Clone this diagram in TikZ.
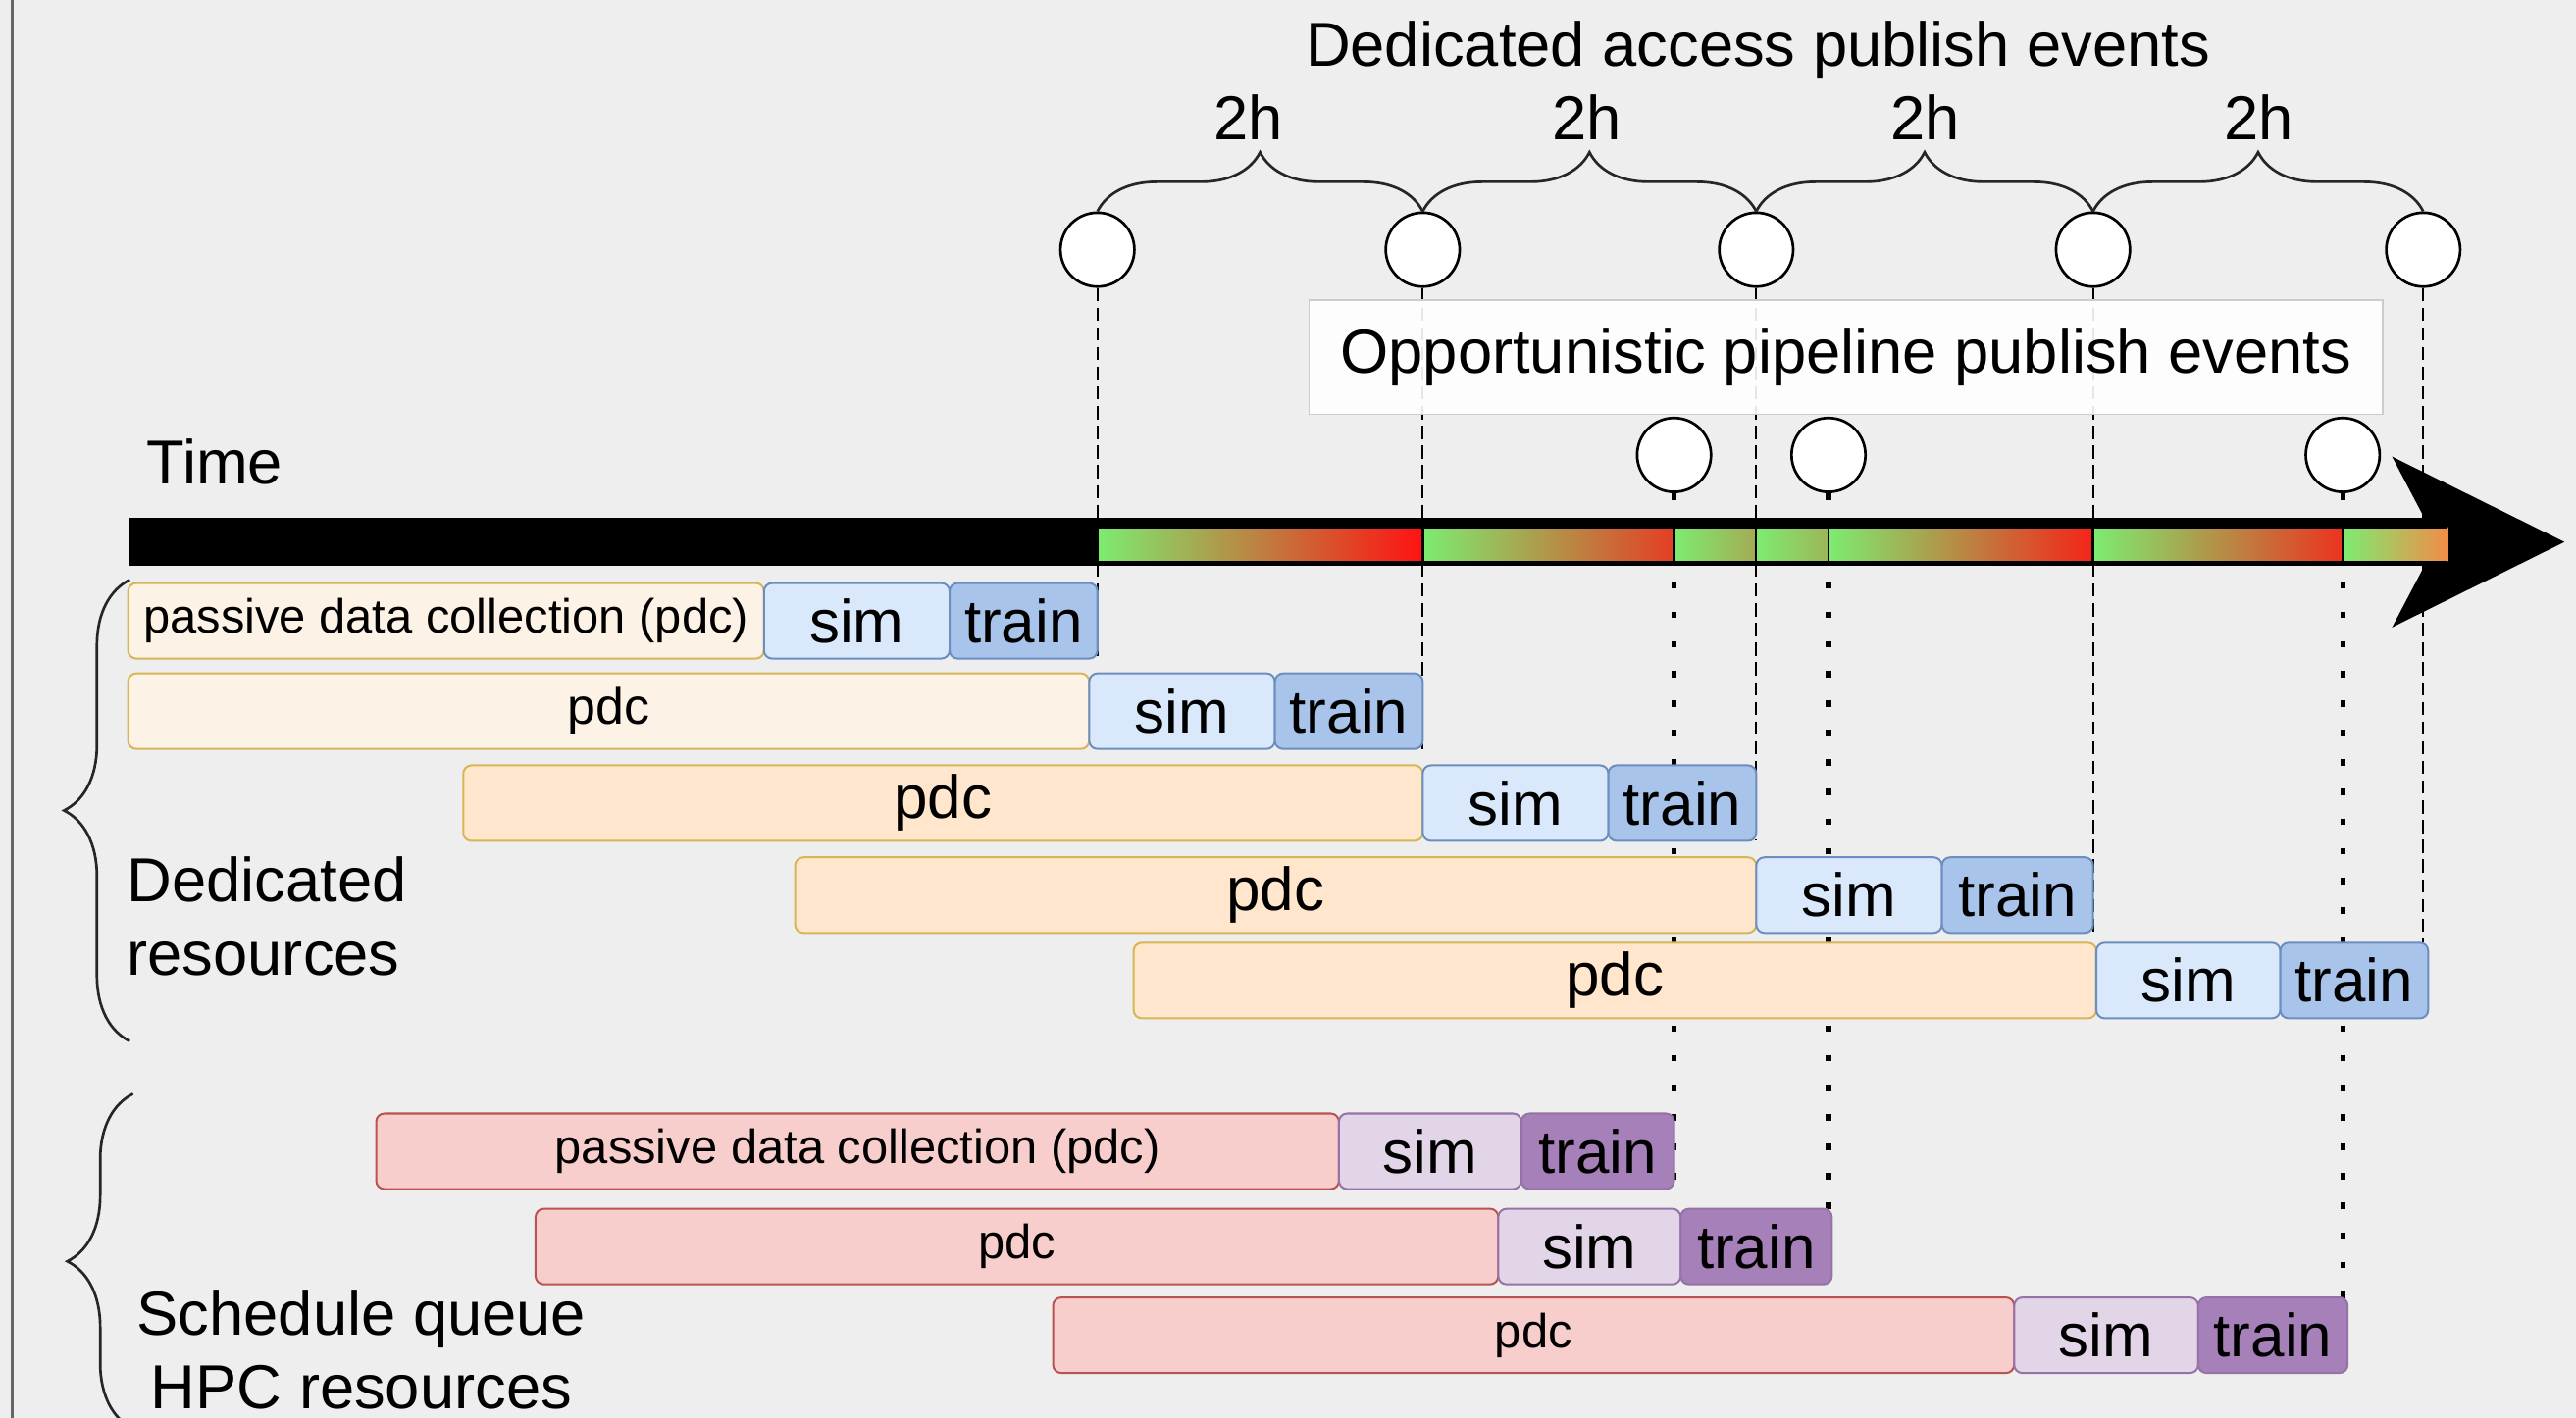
\documentclass[tikz,border=0pt]{standalone}
\usepackage{fontspec}
\setmainfont{Liberation Sans}
\usetikzlibrary{decorations.pathreplacing}
\pgfdeclarelayer{bg}
\pgfsetlayers{bg,main}

\definecolor{canvasgrey}{HTML}{EEEEEE}
\definecolor{pdcpale}{HTML}{FDF2E6}
\definecolor{pdcfill}{HTML}{FFE6CC}
\definecolor{pdcedge}{HTML}{D6B656}
\definecolor{simfill}{HTML}{DAE8FC}
\definecolor{trainfill}{HTML}{A9C4EB}
\definecolor{blueedge}{HTML}{6C8EBF}
\definecolor{qpdcfill}{HTML}{F8CECC}
\definecolor{qpdcedge}{HTML}{B85450}
\definecolor{qsimfill}{HTML}{E1D5E7}
\definecolor{qtrainfill}{HTML}{A680B8}
\definecolor{purpleedge}{HTML}{9673A6}
\definecolor{fresh}{RGB}{125,236,112}
\definecolor{stale}{RGB}{255,18,18}
\definecolor{lateorange}{RGB}{242,140,72}

% task box: name, style, left x, right x, top y, label
\newcommand\taskbox[6]{%
  \pgfmathsetmacro\boxw{(#4-#3)*0.5}%
  \node[#2, minimum width=\boxw pt, anchor=north west] (#1) at (#3,#5) {#6};}

% model-age segment on the time arrow: left x, right x, end colour
\newcommand\agebar[3]{%
  \shade[left color=fresh, right color=#3, draw=black, line width=0.7pt] (#1,321) rectangle (#2,342);}

\begin{document}
\begin{tikzpicture}[x=0.5pt, y=-0.5pt,
  lbl/.style={font=\fontsize{18.9}{22.6}\selectfont, inner sep=0pt, text=black},
  box/.style={draw, rounded corners=2.5pt, inner sep=0pt, outer sep=0pt,
    minimum height=23pt, line width=0.6pt, text=black,
    font=\fontsize{18.5}{20}\selectfont},
  small/.style={font=\fontsize{14.6}{16}\selectfont},
  dpdc/.style={box, fill=pdcfill, draw=pdcedge},
  dpdcpale/.style={box, fill=pdcpale, draw=pdcedge},
  dsim/.style={box, fill=simfill, draw=blueedge},
  dtrain/.style={box, fill=trainfill, draw=blueedge},
  qpdc/.style={box, fill=qpdcfill, draw=qpdcedge, small},
  qsim/.style={box, fill=qsimfill, draw=purpleedge},
  qtrain/.style={box, fill=qtrainfill, draw=purpleedge},
  evt/.style={circle, draw=black, fill=white, line width=0.8pt,
    minimum size=22.5pt, inner sep=0pt},
  dashln/.style={line width=0.6pt, dash pattern=on 4pt off 2pt},
  dotln/.style={line width=1.6pt, dash pattern=on 2pt off 7pt},
  curly/.style={decorate, line width=0.8pt, draw=black!85}]

\useasboundingbox (0,0) rectangle (1568,863.4);

\begin{pgfonlayer}{bg}
  \fill[canvasgrey] (0,0) rectangle (1568,863.4);
  \draw[black!60, line width=1pt] (7.5,0) -- (7.5,863.4);
\end{pgfonlayer}

% time arrow
\fill[black] (78,315) rectangle (1478,344.5);
\fill[black] (1456,278) -- (1561,330) -- (1456,382) -- (1476,344) -- (1476,316) -- cycle;
\agebar{668}{866}{stale}
\agebar{866}{1019}{stale!80!fresh}
\agebar{1019}{1069}{stale!30!fresh}
\agebar{1069}{1113}{stale!25!fresh}
\agebar{1113}{1274}{stale!92!fresh}
\agebar{1274}{1426}{stale!85!fresh}
\shade[left color=fresh, right color=lateorange] (1426,321) rectangle (1490,342);
\draw[black, line width=0.7pt] (1490,321) -- (1426,321) -- (1426,342) -- (1490,342);

% publish events
\node[evt] (t1) at (668,152) {};
\node[evt] (t2) at (866,152) {};
\node[evt] (t3) at (1069,152) {};
\node[evt] (t4) at (1274,152) {};
\node[evt] (t5) at (1475,152) {};
\node[evt] (o1) at (1019,277) {};
\node[evt] (o2) at (1113,277) {};
\node[evt] (o3) at (1426,277) {};

\draw[curly, decoration={brace, amplitude=18pt}] (t1.north) -- (t2.north);
\draw[curly, decoration={brace, amplitude=18pt}] (t2.north) -- (t3.north);
\draw[curly, decoration={brace, amplitude=18pt}] (t3.north) -- (t4.north);
\draw[curly, decoration={brace, amplitude=18pt}] (t4.north) -- (t5.north);

\node[lbl, anchor=base] (ttl) at (1070,40) {Dedicated access publish events};
\node[lbl, anchor=base] (h1) at (760,85) {2h};
\node[lbl, anchor=base] (h2) at (966,85) {2h};
\node[lbl, anchor=base] (h3) at (1172,85) {2h};
\node[lbl, anchor=base] (h4) at (1375,85) {2h};
\node[lbl, draw=black!20, fill=white, fill opacity=0.9, text opacity=1,
  minimum width=326.75pt, minimum height=34.75pt] (opp) at (1123.7,217.5)
  {Opportunistic pipeline publish events};
\node[lbl, anchor=base west] (time) at (89,294.5) {Time};

% dedicated resources
\taskbox{d1p}{dpdcpale,small}{78}{465}{355}{passive data collection (pdc)}
\taskbox{d1s}{dsim}{465}{578}{355}{sim}
\taskbox{d1t}{dtrain}{578}{668}{355}{train}
\taskbox{d2p}{dpdcpale,font=\fontsize{15.5}{17}\selectfont}{78}{663}{410}{pdc}
\taskbox{d2s}{dsim}{663}{776}{410}{sim}
\taskbox{d2t}{dtrain}{776}{866}{410}{train}
\taskbox{d3p}{dpdc}{282}{866}{466}{pdc}
\taskbox{d3s}{dsim}{866}{979}{466}{sim}
\taskbox{d3t}{dtrain}{979}{1069}{466}{train}
\taskbox{d4p}{dpdc}{484}{1069}{522}{pdc}
\taskbox{d4s}{dsim}{1069}{1182}{522}{sim}
\taskbox{d4t}{dtrain}{1182}{1274}{522}{train}
\taskbox{d5p}{dpdc}{690}{1276}{574}{pdc}
\taskbox{d5s}{dsim}{1276}{1388}{574}{sim}
\taskbox{d5t}{dtrain}{1388}{1478}{574}{train}

% schedule queue HPC resources
\taskbox{qAp}{qpdc}{229}{815}{678}{passive data collection (pdc)}
\taskbox{qAs}{qsim}{815}{926}{678}{sim}
\taskbox{qAt}{qtrain}{926}{1019}{678}{train}
\taskbox{qBp}{qpdc}{326}{912}{736}{pdc}
\taskbox{qBs}{qsim}{912}{1023}{736}{sim}
\taskbox{qBt}{qtrain}{1023}{1115}{736}{train}
\taskbox{qCp}{qpdc}{641}{1226}{790}{pdc}
\taskbox{qCs}{qsim}{1226}{1338}{790}{sim}
\taskbox{qCt}{qtrain}{1338}{1429}{790}{train}

% group labels and braces
\node[lbl, align=left, anchor=north west] (dres) at (77,521) {Dedicated\\resources};
\node[lbl, align=center, anchor=north] (qres) at (220,785) {Schedule queue\\HPC resources};
\coordinate (dedTop) at (79,353);
\coordinate (dedBot) at (79,634);
\coordinate (queTop) at (81,666);
\coordinate (queBot) at (81,870);
\draw[curly, decoration={brace, amplitude=20pt}] (dedBot) -- (dedTop);
\draw[curly, decoration={brace, amplitude=20pt}] (queBot) -- (queTop);

% event guide lines, behind everything else
\begin{pgfonlayer}{bg}
  \draw[dashln] (t1.south) -- (t1.south |- d1t.south);
  \draw[dashln] (t2.south) -- (t2.south |- d2t.south);
  \draw[dashln] (t3.south) -- (t3.south |- d3t.south);
  \draw[dashln] (t4.south) -- (t4.south |- d4t.south);
  \draw[dashln] (t5.south) -- (t5.south |- d5t.south);
  \draw[dotln] (o1.south) -- (o1.south |- qAt.south);
  \draw[dotln] (o2.south) -- (o2.south |- qBt.south);
  \draw[dotln] (o3.south) -- (o3.south |- qCt.south);
\end{pgfonlayer}
\end{tikzpicture}
\end{document}
